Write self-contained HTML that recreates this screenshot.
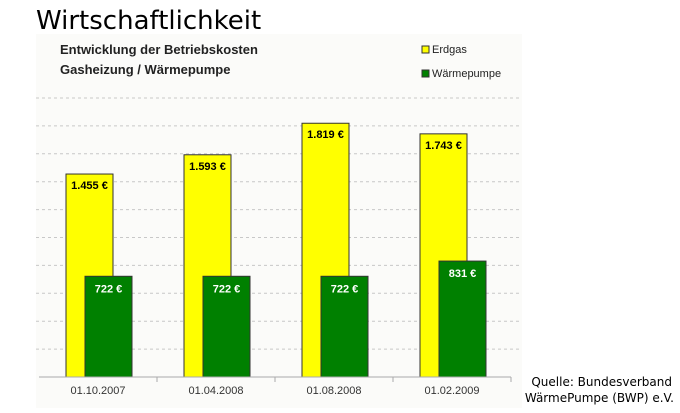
<!DOCTYPE html>
<html><head><meta charset="utf-8"><style>
body{margin:0;background:#fff;width:680px;height:408px;overflow:hidden;font-family:"Liberation Sans",sans-serif}
</style></head><body>
<svg width="680" height="408" xmlns="http://www.w3.org/2000/svg">
<rect x="36" y="34" width="486" height="374" fill="#fbfbf9"/>
<text x="36" y="29" font-family="DejaVu Sans, sans-serif" font-size="26" fill="#000">Wirtschaftlichkeit</text>
<text x="60" y="54" font-family="Liberation Sans, sans-serif" font-size="13" font-weight="bold" fill="#222">Entwicklung der Betriebskosten</text>
<text x="60" y="74" font-family="Liberation Sans, sans-serif" font-size="13" font-weight="bold" fill="#222">Gasheizung / Wärmepumpe</text>
<g>
<rect x="422" y="46" width="7" height="7" fill="#ffff00" stroke="#333"/>
<text x="432" y="53" font-size="11" fill="#222">Erdgas</text>
<rect x="422" y="70" width="7" height="7" fill="#008000" stroke="#333"/>
<text x="432" y="77" font-size="11" fill="#222">Wärmepumpe</text>
</g>
<g id="grid"></g>
<g id="bars"></g>
<g id="axis"></g>
<text x="672" y="386" text-anchor="end" font-family="DejaVu Sans, sans-serif" font-size="12" fill="#000">Quelle: Bundesverband</text>
<text x="674" y="402" text-anchor="end" font-family="DejaVu Sans, sans-serif" font-size="12" fill="#000">WärmePumpe (BWP) e.V.</text>
</svg>
<script>
const categories = ["01.10.2007","01.04.2008","01.08.2008","01.02.2009"];
const erdgas = [1455,1593,1819,1743];
const waermepumpe = [722,722,722,831];
const erdgasLabels = ["1.455 €","1.593 €","1.819 €","1.743 €"];
const waermeLabels = ["722 €","722 €","722 €","831 €"];
const gridTicks = [200,400,600,800,1000,1200,1400,1600,1800,2000];

const NS="http://www.w3.org/2000/svg";
const x0=39, catW=118, baseY=377, k=0.1395, barW=47;
const y=v=>baseY-v*k;
const xc=i=>x0+i*catW;
function mk(tag,attrs,parent){const e=document.createElementNS(NS,tag);for(const a in attrs)e.setAttribute(a,attrs[a]);parent.appendChild(e);return e;}
const grid=document.getElementById('grid'),bars=document.getElementById('bars'),axis=document.getElementById('axis');
gridTicks.forEach(t=>{
  const l=mk('line',{x1:36,x2:520,y1:y(t),y2:y(t),stroke:'#c8c8c8','stroke-dasharray':'3,3'},grid);
  
  
});
categories.forEach((c,i)=>{
  const r1=mk('rect',{x:xc(i)+27,y:y(erdgas[i]),width:barW,height:erdgas[i]*k,fill:'#ffff00',stroke:'#333','stroke-width':1},bars);
  
  
  const t1=mk('text',{x:xc(i)+29+barW/2-2,y:y(erdgas[i])+15,'text-anchor':'middle','font-size':11,'font-weight':'bold',fill:'#000'},bars);
  t1.textContent=erdgasLabels[i];
  
  
  const r2=mk('rect',{x:xc(i)+46,y:y(waermepumpe[i]),width:barW,height:waermepumpe[i]*k,fill:'#008000',stroke:'#333','stroke-width':1},bars);
  
  
  const t2=mk('text',{x:xc(i)+46+barW/2,y:y(waermepumpe[i])+16,'text-anchor':'middle','font-size':11,'font-weight':'bold',fill:'#fff'},bars);
  t2.textContent=waermeLabels[i];
  
  
  const cl=mk('text',{x:xc(i)+catW/2,y:baseY+17,'text-anchor':'middle','font-size':11,fill:'#333'},axis);
  cl.textContent=c;
  
  
  const tk=mk('line',{x1:xc(i+1),x2:xc(i+1),y1:baseY,y2:baseY+5,stroke:'#aaa'},axis);
  
  
});
const ax=mk('line',{x1:x0,x2:x0+catW*4,y1:baseY,y2:baseY,stroke:'#aaa'},axis);


</script>
</body></html>
